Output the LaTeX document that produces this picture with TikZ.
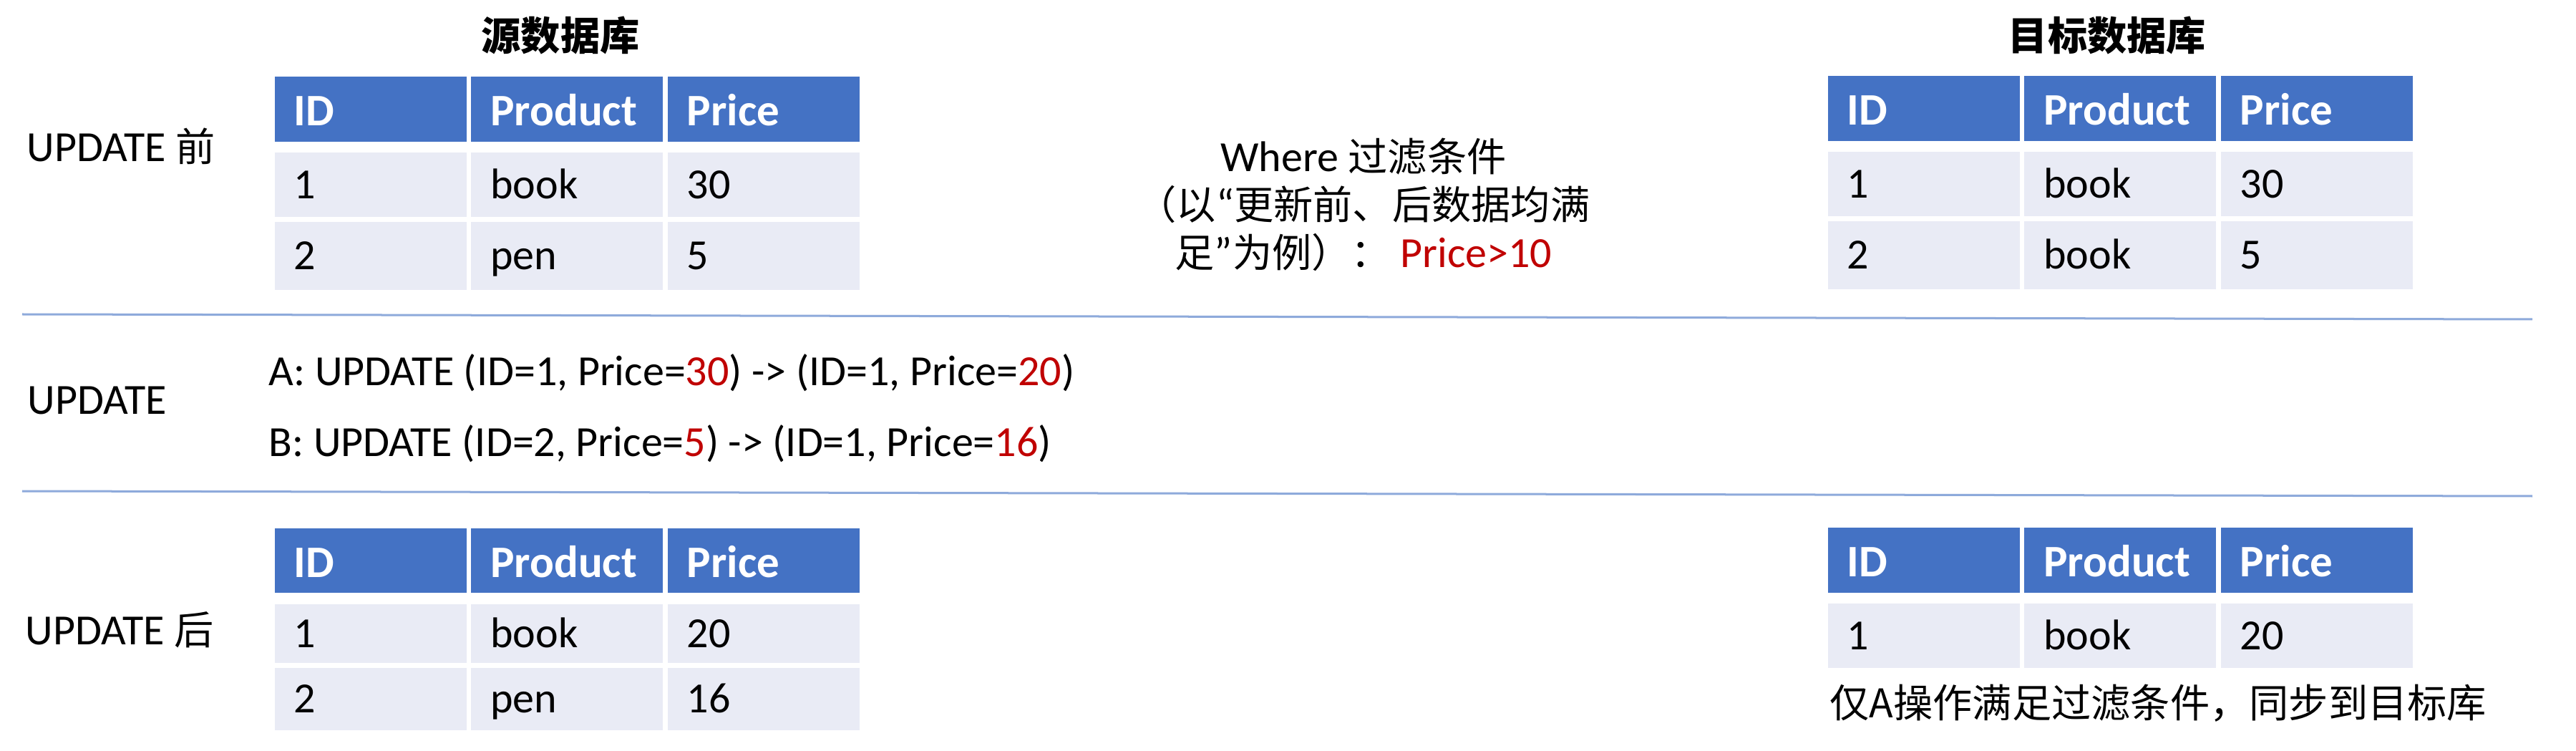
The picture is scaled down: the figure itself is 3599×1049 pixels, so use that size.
\documentclass[tikz,border=0pt]{standalone}
\usepackage{fontspec}
\setmainfont{Carlito}
\newfontfamily\cjk{Noto Sans CJK SC}[Scale=0.92]
\usepackage{xcolor}
\usepackage{tikz}
\usetikzlibrary{positioning}

\definecolor{hdblue}{HTML}{4472C4}
\definecolor{rowgray}{HTML}{E9EBF5}
\definecolor{numred}{HTML}{C00000}
\definecolor{sepblue}{HTML}{8EAADB}
\newcommand{\hl}[1]{\textcolor{numred}{#1}}

\begin{document}
\fontsize{17.07pt}{20pt}\selectfont
\begin{tikzpicture}[
  x=0.01cm, y=-0.01cm,
  hd/.style={fill=hdblue, text=white, font=\fontsize{17.9pt}{20pt}\selectfont\bfseries, inner sep=0pt, minimum width=2.68cm, minimum height=0.91cm, text width=2.14cm, align=left, text height=0.78em, text depth=0pt},
  cell/.style={fill=rowgray, inner sep=0pt, minimum width=2.68cm, minimum height=0.90cm, text width=2.14cm, align=left, text height=0.63em, text depth=0pt},
  title/.style={anchor=base, inner sep=0pt, font=\cjk\bfseries},
  lbl/.style={anchor=base west, inner sep=0pt},
  sep/.style={draw=sepblue, line width=0.03cm},
]
\fill[white] (0,0) rectangle (3599,1049);

% source db, before
\node[title] (srcT) at (783,71) {源数据库};
\node[hd, anchor=north west] (s1) at (383,106) {ID};
\node[hd, right=0.05cm of s1] (s2) {Product};
\node[hd, right=0.05cm of s2] (s3) {Price};
\node[cell, below=0.14cm of s1] (sa1) {1};
\node[cell, below=0.14cm of s2] (sa2) {book};
\node[cell, below=0.14cm of s3] (sa3) {30};
\node[cell, below=0.05cm of sa1, minimum height=0.95cm] (sb1) {2};
\node[cell, below=0.05cm of sa2, minimum height=0.95cm] (sb2) {pen};
\node[cell, below=0.05cm of sa3, minimum height=0.95cm] (sb3) {5};

% target db, before
\node[title] (dstT) at (2944,71) {目标数据库};
\node[hd, anchor=north west] (d1) at (2553,105) {ID};
\node[hd, right=0.05cm of d1] (d2) {Product};
\node[hd, right=0.05cm of d2] (d3) {Price};
\node[cell, below=0.14cm of d1] (da1) {1};
\node[cell, below=0.14cm of d2] (da2) {book};
\node[cell, below=0.14cm of d3] (da3) {30};
\node[cell, below=0.05cm of da1, minimum height=0.95cm] (db1) {2};
\node[cell, below=0.05cm of da2, minimum height=0.95cm] (db2) {book};
\node[cell, below=0.05cm of da3, minimum height=0.95cm] (db3) {5};

\node[anchor=north, inner sep=0pt, align=center, font=\fontsize{17.07pt}{19.07pt}\selectfont] (cond) at (1905,192)
  {Where {\cjk 过滤条件}\\{\cjk （以}“{\cjk 更新前、后数据均满}\\{\cjk 足}”{\cjk 为例）：} \hl{Price>10}};

\node[lbl] (pre) at (37,226) {UPDATE {\cjk 前}};

\draw[sep] (31,439) -- (3538,446);

% update statements
\node[lbl] (upd) at (38,578) {UPDATE};
\node[lbl] (opA) at (375,538) {A: UPDATE (ID=1, Price=\hl{30}) -> (ID=1, Price=\hl{20})};
\node[lbl] (opB) at (375,637) {B: UPDATE (ID=2, Price=\hl{5}) -> (ID=1, Price=\hl{16})};

\draw[sep] (31,686) -- (3538,693);

% source db, after
\node[lbl] (post) at (35,900) {UPDATE {\cjk 后}};
\node[hd, anchor=north west, minimum height=0.90cm] (t1) at (383,737) {ID};
\node[hd, right=0.05cm of t1, minimum height=0.90cm] (t2) {Product};
\node[hd, right=0.05cm of t2, minimum height=0.90cm] (t3) {Price};
\node[cell, below=0.15cm of t1, minimum height=0.82cm] (ta1) {1};
\node[cell, below=0.15cm of t2, minimum height=0.82cm] (ta2) {book};
\node[cell, below=0.15cm of t3, minimum height=0.82cm] (ta3) {20};
\node[cell, below=0.05cm of ta1, minimum height=0.87cm] (tb1) {2};
\node[cell, below=0.05cm of ta2, minimum height=0.87cm] (tb2) {pen};
\node[cell, below=0.05cm of ta3, minimum height=0.87cm] (tb3) {16};

% target db, after
\node[hd, anchor=north west] (e1) at (2553,736) {ID};
\node[hd, right=0.05cm of e1] (e2) {Product};
\node[hd, right=0.05cm of e2] (e3) {Price};
\node[cell, below=0.14cm of e1] (ea1) {1};
\node[cell, below=0.14cm of e2] (ea2) {book};
\node[cell, below=0.14cm of e3] (ea3) {20};
\node[lbl] (note) at (2556,1002) {{\cjk 仅A操作满足过滤条件，同步到目标库}};
\end{tikzpicture}
\end{document}
